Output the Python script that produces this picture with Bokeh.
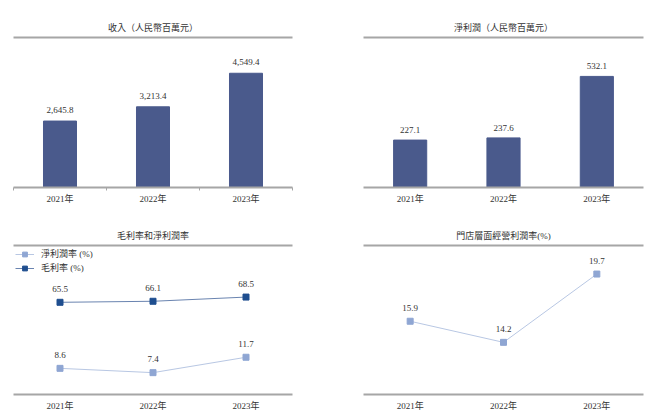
from bokeh.plotting import figure
from bokeh.layouts import row, column
from bokeh.models import (FactorRange, Range1d, LinearAxis, FixedTicker, Legend,
                          LegendItem, ColumnDataSource)
from bokeh.core.properties import value
from bokeh.embed import file_html
from bokeh.resources import INLINE

# ---------------- data ----------------
years = ["2021年", "2022年", "2023年"]
revenue = [2645.8, 3213.4, 4549.4]
net_profit = [227.1, 237.6, 532.1]
gross_margin = [65.5, 66.1, 68.5]
net_margin = [8.6, 7.4, 11.7]
store_margin = [15.9, 14.2, 19.7]

titles = ["收入（人民幣百萬元）", "淨利潤（人民幣百萬元）", "毛利率和淨利潤率", "門店層面經營利潤率(%)"]
legend_labels = ["淨利潤率 (%)", "毛利率 (%)"]

# ---------------- style ----------------
FONT = "'Liberation Serif', 'Noto Sans CJK TC', serif"
TXT = "#333333"
GRAY = "#a6a6a6"
BAR = "#4a5a8c"
DARK = "#1f4e8f"
DARK_LINE = "#6a84b0"
LIGHT = "#8fa6d3"
LIGHT_LINE = "#b8c7e3"
FS = "9px"


def base_fig(width, height, bl, br, bt, bb, y0, y1, title, standoff, boundary_ticks=False):
    n = len(years)
    p = figure(width=width, height=height,
               x_range=FactorRange(*years, range_padding=0),
               y_range=Range1d(y0, y1),
               output_backend="svg", toolbar_location=None,
               x_axis_location=None, y_axis_location=None,
               min_border_left=bl, min_border_right=br,
               min_border_top=bt, min_border_bottom=bb)
    p.outline_line_color = None
    p.grid.visible = False
    p.background_fill_color = "white"
    p.border_fill_color = "white"
    p.title.text = title
    p.title.align = "center"
    p.title.text_font = FONT
    p.title.text_font_size = FS
    p.title.text_font_style = "normal"
    p.title.text_color = TXT
    p.title.standoff = standoff

    # factor i occupies synthetic span [i, i+1]; labels at centres, ticks at boundaries
    centers = [i + 0.5 for i in range(n)]
    bounds = [float(i) for i in range(n + 1)] if boundary_ticks else []
    bottom = LinearAxis(ticker=FixedTicker(ticks=centers, minor_ticks=bounds),
                        major_label_overrides={c: y for c, y in zip(centers, years)},
                        axis_line_color=GRAY, axis_line_width=2,
                        major_tick_line_color=None,
                        minor_tick_line_color=GRAY, minor_tick_line_width=1,
                        minor_tick_out=3 if boundary_ticks else 0, minor_tick_in=0,
                        major_tick_out=0, major_tick_in=0,
                        major_label_standoff=3 if boundary_ticks else 6,
                        major_label_text_line_height=1.0,
                        major_label_text_font=FONT,
                        major_label_text_font_size=FS,
                        major_label_text_color=TXT)
    p.add_layout(bottom, "below")
    top = LinearAxis(ticker=FixedTicker(ticks=[]),
                     axis_line_color=GRAY, axis_line_width=2,
                     major_tick_line_color=None, minor_tick_line_color=None,
                     major_tick_out=0, major_tick_in=0, major_label_standoff=0)
    p.add_layout(top, "above")
    return p


def add_labels(p, xs, ys, offset, y_range_name="default"):
    src = ColumnDataSource(dict(x=xs, y=ys, t=[f"{v:,.1f}" for v in ys]))
    p.text(x="x", y="y", text="t", source=src, y_offset=-offset,
           text_align="center", text_baseline="middle",
           text_font=value(FONT), text_font_size=FS, text_color=TXT,
           y_range_name=y_range_name)


# Panel 1: revenue
p1 = base_fig(330, 210, 13, 38, 37, 22, 0, 5973, titles[0], 9, boundary_ticks=True)
p1.vbar(x=years, top=revenue, width=0.355, color=BAR)
add_labels(p1, years, revenue, 11)

# Panel 2: net profit
p2 = base_fig(330, 210, 33, 17, 37, 23, 0, 718.5, titles[1], 9)
p2.vbar(x=years, top=net_profit, width=0.355, color=BAR)
add_labels(p2, years, net_profit, 10)

# Panel 3: margins (gross on the main scale, net on its own scale)
p3 = base_fig(330, 207, 13, 38, 34, 15, 12.6, 98.1, titles[2], 9)
p3.extra_y_ranges = {"net": Range1d(1.3, 42.9)}
p3.xaxis[0].major_label_standoff = 3
l_net = p3.line(years, net_margin, color=LIGHT_LINE, line_width=1, y_range_name="net")
m_net = p3.scatter(years, net_margin, marker="square", size=6, color=LIGHT, y_range_name="net")
l_gross = p3.line(years, gross_margin, color=DARK_LINE, line_width=1)
m_gross = p3.scatter(years, gross_margin, marker="square", size=6, color=DARK)
add_labels(p3, years, gross_margin, 13)
add_labels(p3, years, net_margin, 13.5, y_range_name="net")
leg = Legend(items=[LegendItem(label=legend_labels[0], renderers=[l_net, m_net]),
                    LegendItem(label=legend_labels[1], renderers=[l_gross, m_gross])],
             location="top_left", margin=2, padding=0, spacing=1,
             glyph_width=19, glyph_height=12, label_height=12, label_standoff=7,
             label_text_font=FONT, label_text_font_size=FS,
             label_text_color=TXT, border_line_color=None,
             background_fill_alpha=0)
p3.add_layout(leg)

# Panel 4: store-level operating margin
p4 = base_fig(330, 207, 33, 17, 35, 23, 10, 22, titles[3], 9)
p4.line(years, store_margin, color=LIGHT_LINE, line_width=1)
p4.scatter(years, store_margin, marker="square", size=6, color=LIGHT)
add_labels(p4, years, store_margin, 13.5)

layout = column(row(p1, p2, spacing=0), row(p3, p4, spacing=0), spacing=0)
open("out.html", "w").write(file_html(layout, INLINE))
